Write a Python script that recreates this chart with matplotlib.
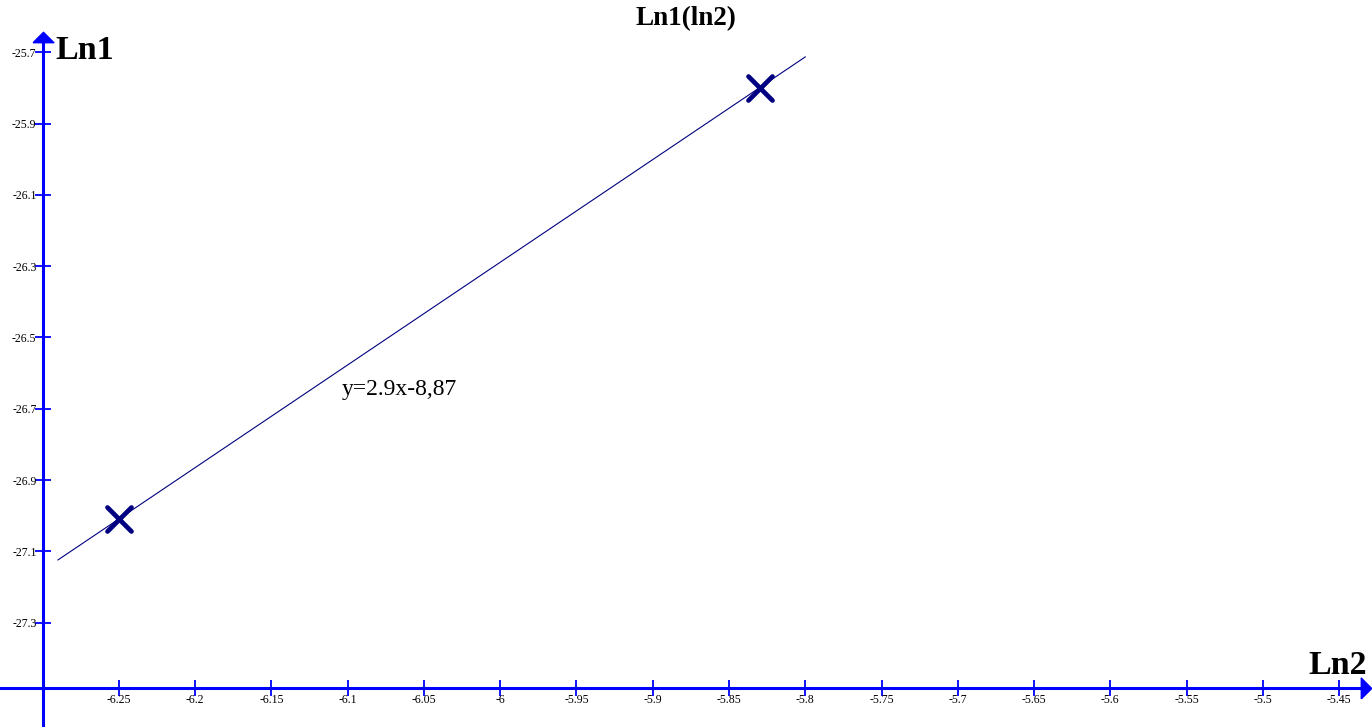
import numpy as np
import matplotlib

matplotlib.use("Agg")
import matplotlib.pyplot as plt  # noqa: E402
from matplotlib.markers import MarkerStyle  # noqa: E402

plt.rcParams["font.family"] = ["Liberation Serif", "DejaVu Serif"]

# measured points (ln2, ln1)
ln2_pts = [-6.25, -5.83]
ln1_pts = [-27.01, -25.80]

# fitted line as drawn in the original
fit_x = [-6.29, -5.80]
fit_y = [-27.124, -25.713]
fit_label = "y=2.9x-8,87"

x_ticks = [-6.25, -6.2, -6.15, -6.1, -6.05, -6.0, -5.95, -5.9, -5.85, -5.8,
           -5.75, -5.7, -5.65, -5.6, -5.55, -5.5, -5.45]
x_tick_labels = ["-6.25", "-6.2", "-6.15", "-6.1", "-6.05", "-6", "-5.95", "-5.9",
                 "-5.85", "-5.8", "-5.75", "-5.7", "-5.65", "-5.6", "-5.55", "-5.5", "-5.45"]
y_ticks = [-25.7, -25.9, -26.1, -26.3, -26.5, -26.7, -26.9, -27.1, -27.3]
y_tick_labels = ["-25.7", "-25.9", "-26.1", "-26.3", "-26.5", "-26.7", "-26.9", "-27.1", "-27.3"]

X_MIN, X_MAX = -6.328, -5.4284
Y_MIN, Y_MAX = -27.5926, -25.5533
X_ORIGIN, Y_ORIGIN = -6.30, -27.482

AXIS_BLUE = "#0000ff"
NAVY = "#000080"

fig = plt.figure(figsize=(13.72, 7.27), dpi=100)
ax = fig.add_axes([0, 0, 1, 1])
ax.set_xlim(X_MIN, X_MAX)
ax.set_ylim(Y_MIN, Y_MAX)

# axes crossing inside the plot, like the original
for s in ("top", "right"):
    ax.spines[s].set_visible(False)
ax.spines["left"].set_position(("data", X_ORIGIN))
ax.spines["bottom"].set_position(("data", Y_ORIGIN))
ax.spines["left"].set_bounds(Y_MIN, -25.665)
ax.spines["bottom"].set_bounds(X_MIN, -5.435)
for s in ("left", "bottom"):
    ax.spines[s].set_color(AXIS_BLUE)
    ax.spines[s].set_linewidth(2.2)

# flat arrow heads
up_head = [(-1, -0.5), (1, -0.5), (0, 0.5), (-1, -0.5)]
right_head = [(-0.5, -1), (-0.5, 1), (0.5, 0), (-0.5, -1)]
ax.plot([X_ORIGIN], [-25.657], marker=up_head, color=AXIS_BLUE, markersize=15,
        clip_on=False, zorder=5)
ax.plot([-5.4323], [Y_ORIGIN], marker=right_head, color=AXIS_BLUE, markersize=15,
        clip_on=False, zorder=5)

ax.set_xticks(x_ticks)
ax.set_xticklabels(x_tick_labels)
ax.set_yticks(y_ticks)
ax.set_yticklabels(y_tick_labels)
ax.tick_params(axis="both", direction="inout", length=11, width=1.3,
               color=AXIS_BLUE, labelsize=8.5, labelcolor="black")
ax.tick_params(axis="x", pad=-1)
ax.tick_params(axis="y", pad=-1)

# fit line + points
ax.plot(fit_x, fit_y, color=NAVY, lw=0.8)
ax.plot(ln2_pts, ln1_pts, linestyle="none",
        marker=MarkerStyle("x", capstyle="round"), markersize=17,
        markeredgewidth=3.4, color=NAVY)
ax.text(-6.104, -26.6613, fit_label, fontsize=17, ha="left", va="baseline")

# axis names and title
ax.text(-6.2919, -25.7188, "Ln1", fontsize=24.5, fontweight="bold",
        ha="left", va="baseline")
ax.text(-5.4317, -27.444, "Ln2", fontsize=24.5, fontweight="bold",
        ha="right", va="baseline")
fig.text(0.5, 0.9656, "Ln1(ln2)", fontsize=19.5, fontweight="bold",
         ha="center", va="baseline")

fig.savefig("out.png", dpi=100)
plt.close(fig)
